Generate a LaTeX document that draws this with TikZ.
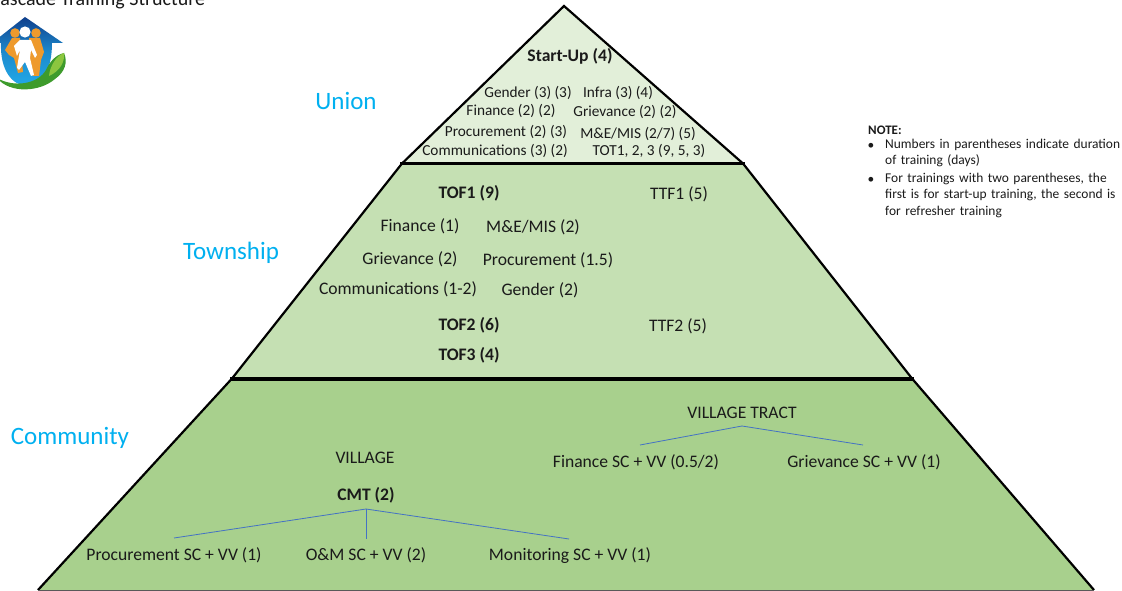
\documentclass[tikz,border=0pt]{standalone}
\usepackage{fontspec}
\setmainfont{Carlito}
\definecolor{tierA}{HTML}{E2EFD9}
\definecolor{tierB}{HTML}{C5E0B3}
\definecolor{tierC}{HTML}{A8D08D}
\definecolor{lvl}{HTML}{00B0F0}
\definecolor{tree}{HTML}{4472C4}
\definecolor{ink}{HTML}{1A1A1A}
\definecolor{roof}{HTML}{0F3F8C}
\definecolor{sky}{HTML}{22A9E8}
\definecolor{man}{HTML}{EE9A2D}
\definecolor{leafA}{HTML}{3E9B2C}
\definecolor{leafB}{HTML}{8CC63F}
\tikzset{
 lab/.style={font=\fontsize{15.3}{17}\selectfont,text=ink,inner sep=0pt,anchor=center,yshift=-1pt},
 midlab/.style={font=\fontsize{17.6}{20}\selectfont,text=ink,inner sep=0pt,anchor=center,yshift=-1pt},
 boldlab/.style={font=\fontsize{17.6}{20}\selectfont\bfseries,text=ink,inner sep=0pt,anchor=center,yshift=-0.5pt},
 level/.style={font=\fontsize{25}{28}\selectfont,text=lvl,inner sep=0pt,anchor=center},
 treeline/.style={draw=tree,line width=0.8pt},
 edge/.style={draw=black,line width=2.2pt},
 divider/.style={draw=black,line width=3.4pt},
 notetext/.style={inner sep=0pt,anchor=north west,align=left,text width=240pt,font=\fontsize{13.45}{16.8}\selectfont,text=ink},
 bullet/.style={inner sep=0pt,anchor=center,font=\fontsize{13.45}{16.8}\selectfont,text=ink}
}
\begin{document}
\begin{tikzpicture}[x=1pt,y=-1pt]
\useasboundingbox (0,0) rectangle (1122,591);
\fill[white] (0,0) rectangle (1122,591);
% tiers
\fill[tierA] (564,6) -- (402,163.5) -- (743,163.5) -- cycle;
\fill[tierB] (402,163.5) -- (232,378.5) -- (912,378.5) -- (743,163.5) -- cycle;
\fill[tierC] (232,378.5) -- (38,590) -- (1094,590) -- (912,378.5) -- cycle;
\draw[edge] (232,378.5) -- (402,163.5) -- (564,6) -- (743,163.5) -- (912,378.5);
\draw[edge] (232,378.5) -- (38,590);
\draw[edge] (912,378.5) -- (1094,590);
\draw[draw=black!65,line width=1pt] (38,590.5) -- (1094,590.5);
\draw[divider] (400,163.5) -- (745,163.5);
\draw[divider] (230,379) -- (914,379);
% title
\node[inner sep=0pt,anchor=base west,font=\fontsize{20}{22}\selectfont,text=ink] (title) at (-10.5,5.5) {Cascade Training Structure};
% logo
\begin{scope}
\clip (0,12) rectangle (72,92);
\path[top color=roof,bottom color=sky,middle color=sky!70!roof]
  (25,17) -- (-8,43) -- (1,43) .. controls (0,70) and (12,86) .. (28,86)
  .. controls (42,86) and (52,70) .. (52,43) -- (63,43) -- cycle;
\fill[man] (15,33) circle (4.8);
\fill[man] (36,33) circle (4.8);
\fill[man] (5,50) -- (12,38) -- (20,38) -- (23,72) -- (18,73) -- (14,58) -- (9,55) -- cycle;
\fill[man] (29,38) -- (40,38) -- (44,52) -- (41,60) -- (39,76) -- (33,76) -- (29,60) -- cycle;
\fill[white] (25,32) circle (5.6);
\fill[white] (14,46) -- (20,40) -- (31,40) -- (37,55) -- (35,58) -- (31,50) -- (30,58) -- (34,75) -- (31,76) -- (25,62) -- (19,70) -- (17,68) -- (20,50) -- (17,56) -- cycle;
\fill[leafA] (-3,78) .. controls (10,94) and (40,92) .. (55,79) .. controls (65,72) and (68,62) .. (64,53) .. controls (55,55) and (49,63) .. (46,70) .. controls (38,84) and (14,88) .. (-3,78) -- cycle;
\fill[leafB] (49,76) .. controls (60,71) and (65,62) .. (64,53) .. controls (56,56) and (50,66) .. (49,76) -- cycle;
\end{scope}
% level labels
\node[level] (union) at (346,101) {Union};
\node[level] (township) at (231,253) {Township};
\node[level] (community) at (70,438) {Community};
% union tier
\node[boldlab] (startup) at (570,56) {Start-Up (4)};
\node[lab] (gender) at (528,92) {Gender (3) (3)};
\node[lab] (infra) at (618,92) {Infra (3) (4)};
\node[lab] (finance) at (511,110) {Finance (2) (2)};
\node[lab] (griev) at (625,111) {Grievance (2) (2)};
\node[lab] (proc) at (506,131) {Procurement (2) (3)};
\node[lab] (me) at (638,133) {M\&E/MIS (2/7) (5)};
\node[lab] (comm) at (495,150) {Communications (3) (2)};
\node[lab] (tot) at (649,150) {TOT1, 2, 3 (9, 5, 3)};
% township tier
\node[boldlab] (tof1) at (469,193) {TOF1 (9)};
\node[midlab] (ttf1) at (679,193) {TTF1 (5)};
\node[midlab] (fin2) at (420,225) {Finance (1)};
\node[midlab] (me2) at (533,226) {M\&E/MIS (2)};
\node[midlab] (gr2) at (410,258) {Grievance (2)};
\node[midlab] (pr2) at (548,259) {Procurement (1.5)};
\node[midlab] (co2) at (398,288) {Communications (1-2)};
\node[midlab] (ge2) at (540,289) {Gender (2)};
\node[boldlab] (tof2) at (469,325) {TOF2 (6)};
\node[midlab] (ttf2) at (678,325) {TTF2 (5)};
\node[boldlab] (tof3) at (469,355) {TOF3 (4)};
% community tier
\node[midlab] (vtract) at (742,412) {VILLAGE TRACT};
\node[midlab] (finsc) at (636,461) {Finance SC + VV (0.5/2)};
\node[midlab] (grsc) at (864,461) {Grievance SC + VV (1)};
\node[midlab] (village) at (365,457) {VILLAGE};
\node[boldlab] (cmt) at (366,495) {CMT (2)};
\node[midlab] (prsc) at (174,554) {Procurement SC + VV (1)};
\node[midlab] (omsc) at (366,554) {O\&M SC + VV (2)};
\node[midlab] (mosc) at (570,555) {Monitoring SC + VV (1)};
% tree connectors
\coordinate (vtfoot) at (742,426);
\coordinate (finend) at (640,445);
\coordinate (grend) at (863,445);
\draw[treeline] (finend) -- (vtfoot) -- (grend);
\coordinate (cmtfoot) at (366,509);
\coordinate (prend) at (174,538);
\coordinate (omend) at (366,539);
\coordinate (moend) at (569,539);
\draw[treeline] (prend) -- (cmtfoot) -- (moend);
\draw[treeline] (cmtfoot) -- (omend);
% note
\node[inner sep=0pt,anchor=west,font=\fontsize{13}{15}\selectfont\bfseries,text=ink] (note) at (868,130) {NOTE:};
\node[notetext] (n1) at (885,138.5) {Numbers in parentheses indicate duration\\of training (days)};
\node[notetext] (n2) at (885,172.5) {For trainings with two parentheses, the\\first is for start-up training, the second is\\for refresher training};
\node[bullet] (b1) at (871,146) {•};
\node[bullet] (b2) at (871,180) {•};
\end{tikzpicture}
\end{document}
